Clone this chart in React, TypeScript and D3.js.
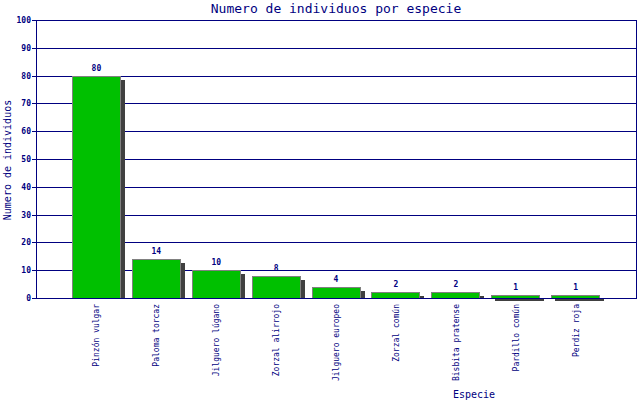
import { useEffect, useRef } from "react";
import * as d3 from "d3";

const species = [
  "Pinzón vulgar",
  "Paloma torcaz",
  "Jilguero lúgano",
  "Zorzal alirrojo",
  "Jilguero europeo",
  "Zorzal común",
  "Bisbita pratense",
  "Pardillo común",
  "Perdiz roja",
];
const counts = [80, 14, 10, 8, 4, 2, 2, 1, 1];
const yTicks = [0, 10, 20, 30, 40, 50, 60, 70, 80, 90, 100];

const NAVY = "#000080";
const MONO = "'DejaVu Sans Mono', 'Liberation Mono', monospace";

const App = () => {
  const ref = useRef<SVGSVGElement>(null);

  useEffect(() => {
    const svg = d3.select(ref.current);
    svg.selectAll("*").remove();

    const left = 36, right = 636, top = 20, bottom = 298;

    const x = d3
      .scaleBand()
      .domain(species)
      .range([left, right])
      .paddingInner(11 / 60)
      .paddingOuter(0.6);

    const y = d3.scaleLinear().domain([0, 100]).range([bottom, top]);

    svg.append("rect").attr("width", 640).attr("height", 400).attr("fill", "#fff");

    // grid
    svg
      .append("g")
      .selectAll("line")
      .data(yTicks)
      .join("line")
      .attr("x1", left - 4)
      .attr("x2", right)
      .attr("y1", (d) => Math.round(y(d)) + 0.5)
      .attr("y2", (d) => Math.round(y(d)) + 0.5)
      .attr("stroke", NAVY)
      .attr("shape-rendering", "crispEdges");

    // tick labels
    svg
      .append("g")
      .selectAll("text")
      .data(yTicks)
      .join("text")
      .attr("x", left - 5)
      .attr("y", (d) => y(d) + 3)
      .attr("text-anchor", "end")
      .attr("font-family", MONO)
      .attr("font-size", 8)
      .attr("font-weight", "bold")
      .attr("fill", NAVY)
      .text((d) => d);

    const data = species.map((s, i) => ({ s, v: counts[i] }));

    // shadows: offset 4px, clipped at the axis (tiny bars leave a sliver below it)
    const shadowSpan = (v: number) => {
      const t = Math.round(y(v)) + 4;
      return t <= bottom ? [t, bottom] : [bottom, bottom + 3];
    };
    svg
      .append("g")
      .selectAll("rect")
      .data(data)
      .join("rect")
      .attr("x", (d) => Math.round(x(d.s)!) + 4)
      .attr("y", (d) => shadowSpan(d.v)[0])
      .attr("width", Math.round(x.bandwidth()))
      .attr("height", (d) => shadowSpan(d.v)[1] - shadowSpan(d.v)[0])
      .attr("fill", "#404040")
      .attr("shape-rendering", "crispEdges");

    // bars
    svg
      .append("g")
      .selectAll("rect")
      .data(data)
      .join("rect")
      .attr("x", (d) => Math.round(x(d.s)!) + 0.5)
      .attr("y", (d) => Math.round(y(d.v)) + 0.5)
      .attr("width", Math.round(x.bandwidth()) - 1)
      .attr("height", (d) => Math.round(bottom - y(d.v)))
      .attr("fill", "#00c000")
      .attr("stroke", "#808080")
      .attr("stroke-width", 1);

    // frame
    svg
      .append("rect")
      .attr("x", left + 0.5)
      .attr("y", top + 0.5)
      .attr("width", right - left)
      .attr("height", bottom - top)
      .attr("fill", "none")
      .attr("stroke", NAVY)
      .attr("shape-rendering", "crispEdges");

    // value labels
    svg
      .append("g")
      .selectAll("text")
      .data(data)
      .join("text")
      .attr("x", (d) => x(d.s)! + x.bandwidth() / 2)
      .attr("y", (d) => y(d.v) - 5)
      .attr("text-anchor", "middle")
      .attr("font-family", MONO)
      .attr("font-size", 8)
      .attr("font-weight", "bold")
      .attr("fill", NAVY)
      .text((d) => d.v);

    // category labels
    svg
      .append("g")
      .selectAll("text")
      .data(species)
      .join("text")
      .attr(
        "transform",
        (d) => `translate(${x(d)! + x.bandwidth() / 2 + 3},${bottom + 6}) rotate(-90)`
      )
      .attr("text-anchor", "end")
      .attr("font-family", MONO)
      .attr("font-size", 8)
      .attr("fill", NAVY)
      .text((d) => d);

    svg
      .append("text")
      .attr("x", 336)
      .attr("y", 13)
      .attr("text-anchor", "middle")
      .attr("font-family", MONO)
      .attr("font-size", 13)
      .attr("fill", NAVY)
      .text("Numero de individuos por especie");

    svg
      .append("text")
      .attr("transform", "translate(11,160) rotate(-90)")
      .attr("text-anchor", "middle")
      .attr("font-family", MONO)
      .attr("font-size", 10)
      .attr("fill", NAVY)
      .text("Numero de individuos");

    svg
      .append("text")
      .attr("x", 474)
      .attr("y", 398)
      .attr("text-anchor", "middle")
      .attr("font-family", MONO)
      .attr("font-size", 10)
      .attr("fill", NAVY)
      .text("Especie");
  }, []);

  return (
    <svg
      ref={ref}
      width={640}
      height={400}
      style={{ position: "absolute", left: 0, top: 0 }}
    />
  );
};

export default App;
